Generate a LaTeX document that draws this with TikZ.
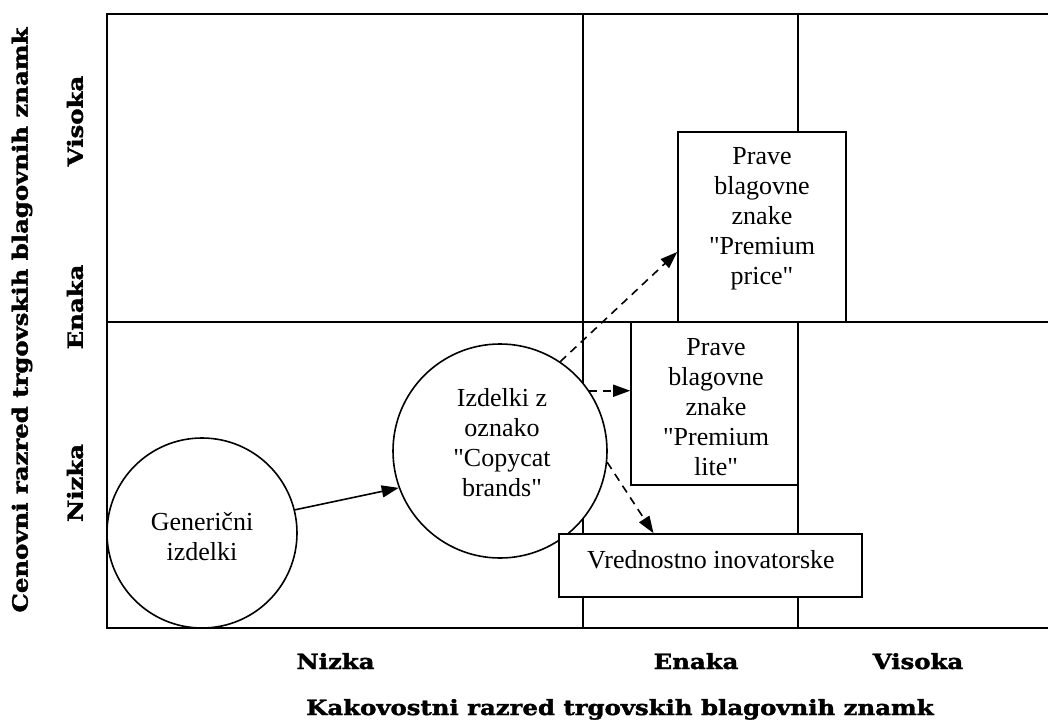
\documentclass[tikz,border=0pt]{standalone}
\usepackage{fontspec}
\setmainfont{Liberation Serif}
\newfontfamily\axisfont{DejaVu Serif Bold}[FakeBold=1.6]
\usetikzlibrary{arrows.meta,calc}
\font\rawquotefont="Liberation Serif" at 26pt
\newcommand{\dq}{{\rawquotefont\char"22}}
\tikzset{
  grid/.style={line width=1.6pt,line cap=rect},
  shapebox/.style={draw,fill=white,line width=1.6pt,rectangle,inner sep=0pt},
  ring/.style={draw,fill=white,line width=1.6pt,circle,inner sep=0pt},
  label/.style={inner sep=0pt,align=center,font=\fontsize{26}{30}\selectfont},
  solidarrow/.style={line width=1.6pt,-{Triangle[length=17pt,width=12pt]}},
  dasharrow/.style={line width=1.6pt,dash pattern=on 8pt off 6pt,-{Triangle[length=17pt,width=12pt]}},
  axislab/.style={inner sep=0pt,font=\axisfont\fontsize{21}{24}\selectfont},
}
\newcommand{\wide}[1]{\scalebox{1.16}[1]{#1}}
\begin{document}
\begin{tikzpicture}[x=1pt,y=-1pt]
\useasboundingbox (0,0) rectangle (1048,722);
% grid
\draw[grid] (1048,14) -- (107,14) -- (107,628) -- (1048,628);
\draw[grid] (107,322) -- (1048,322);
\draw[grid] (583,14) -- (583,628);
\draw[grid] (798,14) -- (798,628);
% nodes
\node[ring,minimum size=190pt] (g) at (202,533) {};
\node[label] (gt) at (202,537) {Generi\v{c}ni\\izdelki};
\node[ring,minimum size=214pt] (c) at (500,451) {};
\node[label] (ct) at (502,443) {Izdelki z\\oznako\\\dq Copycat\\brands\dq};
\node[shapebox,minimum width=168pt,minimum height=190pt] (pp) at (762,227) {};
\node[label] (ppt) at (762,219) {Prave\\blagovne\\znake\\\dq Premium\\price\dq};
\node[shapebox,minimum width=167pt,minimum height=163pt] (pl) at (714.5,403.5) {};
\node[label] (plt) at (716,407) {Prave\\blagovne\\znake\\\dq Premium\\lite\dq};
\node[shapebox,minimum width=303pt,minimum height=63pt] (vi) at (710.5,565.5) {};
\node[label] (vit) at (711,560) {Vrednostno inovatorske};
% connectors
\draw[solidarrow] (g.14) -- (c.200);
\draw[dasharrow] (c.56) -- ([yshift=-25pt]pp.west);
\draw[dasharrow] (c.34) -- (c.34 -| pl.west);
\draw[dasharrow] (c.-6) -- ([xshift=-57pt]vi.north);
% axis labels
\node[axislab,rotate=90] (ytitle) at (22,320) {\wide{Cenovni razred trgovskih blagovnih znamk}};
\node[axislab,rotate=90] (yhigh) at (75,121) {\wide{Visoka}};
\node[axislab,rotate=90] (yeq) at (75,307) {\wide{Enaka}};
\node[axislab,rotate=90] (ylow) at (75,483) {\wide{Nizka}};
\node[axislab,anchor=base] (xlow) at (335.5,669) {\wide{Nizka}};
\node[axislab,anchor=base] (xeq) at (696,669) {\wide{Enaka}};
\node[axislab,anchor=base] (xhigh) at (918,669) {\wide{Visoka}};
\node[axislab,anchor=base] (xtitle) at (620,715) {\wide{Kakovostni razred trgovskih blagovnih znamk}};
\end{tikzpicture}
\end{document}
